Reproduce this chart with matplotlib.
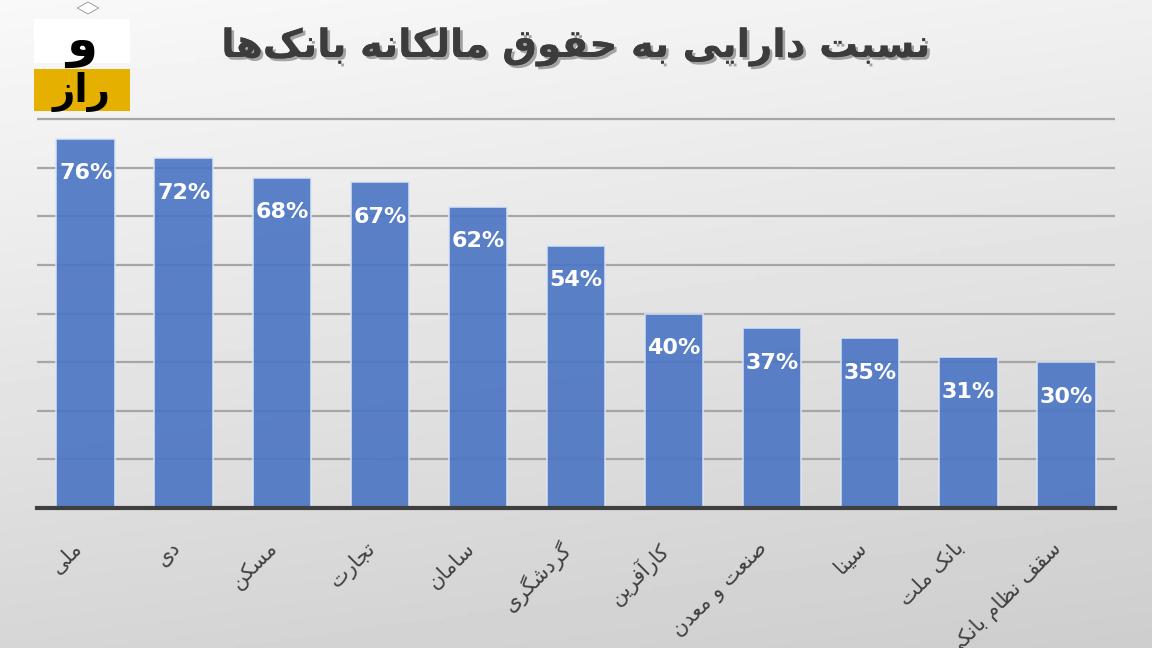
import numpy as np
import matplotlib
matplotlib.use('Agg')
import matplotlib.pyplot as plt
import matplotlib.patches as patches
import matplotlib.patheffects as pe

# Daten
banks = ['ملی', 'دی', 'مسکن', 'تجارت', 'سامان', 'گردشگری', 'کارآفرین',
         'صنعت و معدن', 'سینا', 'بانک ملت', 'سقف نظام بانکی']
ratios = [76, 72, 68, 67, 62, 54, 40, 37, 35, 31, 30]
title = 'نسبت دارایی به حقوق مالکانه بانک\u200cها'

# einfache arabische Formung (isoliert, final, initial, medial)
FORMS = {
    '\u0627': ('\uFE8D', '\uFE8E', None, None),
    '\u0622': ('\uFE81', '\uFE82', None, None),
    '\u0628': ('\uFE8F', '\uFE90', '\uFE91', '\uFE92'),
    '\u062A': ('\uFE95', '\uFE96', '\uFE97', '\uFE98'),
    '\u062C': ('\uFE9D', '\uFE9E', '\uFE9F', '\uFEA0'),
    '\u062D': ('\uFEA1', '\uFEA2', '\uFEA3', '\uFEA4'),
    '\u062F': ('\uFEA9', '\uFEAA', None, None),
    '\u0631': ('\uFEAD', '\uFEAE', None, None),
    '\u0632': ('\uFEAF', '\uFEB0', None, None),
    '\u0633': ('\uFEB1', '\uFEB2', '\uFEB3', '\uFEB4'),
    '\u0634': ('\uFEB5', '\uFEB6', '\uFEB7', '\uFEB8'),
    '\u0635': ('\uFEB9', '\uFEBA', '\uFEBB', '\uFEBC'),
    '\u0638': ('\uFEC5', '\uFEC6', '\uFEC7', '\uFEC8'),
    '\u0639': ('\uFEC9', '\uFECA', '\uFECB', '\uFECC'),
    '\u0641': ('\uFED1', '\uFED2', '\uFED3', '\uFED4'),
    '\u0642': ('\uFED5', '\uFED6', '\uFED7', '\uFED8'),
    '\u0644': ('\uFEDD', '\uFEDE', '\uFEDF', '\uFEE0'),
    '\u0645': ('\uFEE1', '\uFEE2', '\uFEE3', '\uFEE4'),
    '\u0646': ('\uFEE5', '\uFEE6', '\uFEE7', '\uFEE8'),
    '\u0647': ('\uFEE9', '\uFEEA', '\uFEEB', '\uFEEC'),
    '\u0648': ('\uFEED', '\uFEEE', None, None),
    '\u06A9': ('\uFB8E', '\uFB8F', '\uFB90', '\uFB91'),
    '\u06AF': ('\uFB92', '\uFB93', '\uFB94', '\uFB95'),
    '\u06CC': ('\uFBFC', '\uFBFD', '\uFBFE', '\uFBFF'),
}


def forme(text):
    """Arabische Buchstaben verbinden und fuer LTR-Ausgabe umdrehen"""
    out = []
    for i, c in enumerate(text):
        if c not in FORMS:
            out.append(c)
            continue
        prev = text[i - 1] if i > 0 else None
        nxt = text[i + 1] if i + 1 < len(text) else None
        iso, fin, ini, med = FORMS[c]
        join_prev = prev in FORMS and FORMS[prev][2] is not None
        join_next = ini is not None and nxt in FORMS
        if join_prev and join_next:
            out.append(med)
        elif join_prev:
            out.append(fin)
        elif join_next:
            out.append(ini)
        else:
            out.append(iso)
    return ''.join(out).replace('\u200c', '')[::-1]


plt.rcParams['font.family'] = ['DejaVu Sans']

fig = plt.figure(figsize=(11.52, 6.48), dpi=100)

# Hintergrund mit Verlauf
bg = fig.add_axes([0, 0, 1, 1], zorder=-10)
yy, xx = np.mgrid[0:1:200j, 0:1:200j]
grad = 0.975 - 0.17 * (0.8 * yy + 0.2 * xx)
bg.imshow(grad, cmap='gray', vmin=0, vmax=1, aspect='auto', extent=[0, 1, 0, 1])
bg.axis('off')

ax = fig.add_axes([0.032, 0.216, 0.936, 0.603])
ax.set_facecolor('none')
x = np.arange(len(banks))
bars = ax.bar(x, ratios, width=0.6, color='#4a74c4', alpha=0.9,
              edgecolor='#dbe4f5', linewidth=1.2, zorder=3)

ax.set_xlim(-0.5, len(banks) - 0.5)
ax.set_ylim(0, 80.4)
ax.set_yticks(np.arange(10, 81, 10))
ax.yaxis.grid(True, color='#a6a6a6', linewidth=1.6, zorder=1)
ax.tick_params(axis='y', left=False, labelleft=False)
ax.tick_params(axis='x', bottom=False, pad=18)
for s in ['top', 'right', 'left']:
    ax.spines[s].set_visible(False)
ax.spines['bottom'].set_color('#3f3f3f')
ax.spines['bottom'].set_linewidth(3)
ax.spines['bottom'].set_zorder(4)

ax.set_xticks(x)
ax.set_xticklabels([forme(b) for b in banks], rotation=45, ha='right',
                   fontsize=15, color='#404040')

for xi, v in zip(x, ratios):
    ax.annotate(f'{v}%', (xi, v), xytext=(0, -25), textcoords='offset points',
                ha='center', va='center', color='white', fontsize=16,
                fontweight='bold', zorder=5)

# Titel
fig.text(0.5, 1 - 47 / 648, forme(title), ha='center', va='center', fontsize=28,
         fontweight='bold', color='#3c3c3c',
         path_effects=[pe.withSimplePatchShadow(offset=(2, -2), alpha=0.35),
                       pe.Normal()])

# Logo
fig.patches.append(patches.Rectangle((34 / 1152, 1 - 63 / 648), 96 / 1152, 44 / 648,
                                     transform=fig.transFigure, facecolor='white',
                                     edgecolor='none', zorder=2))
fig.patches.append(patches.Rectangle((34 / 1152, 1 - 111 / 648), 96 / 1152, 42 / 648,
                                     transform=fig.transFigure, facecolor='#e6b000',
                                     edgecolor='none', zorder=2))
fig.patches.append(patches.RegularPolygon((88 / 1152, 1 - 8 / 648), 4, radius=6 / 648,
                                          transform=fig.transFigure, facecolor='white',
                                          edgecolor='#909090', linewidth=0.6, zorder=2))
fig.text(82 / 1152, 1 - 44 / 648, forme('و'), ha='center', va='center',
         fontsize=36, fontweight='bold', color='black', zorder=3)
fig.text(82 / 1152, 1 - 92 / 648, forme('راز'), ha='center', va='center',
         fontsize=28, fontweight='bold', color='black', zorder=3)

fig.savefig('out.png', dpi=100)
